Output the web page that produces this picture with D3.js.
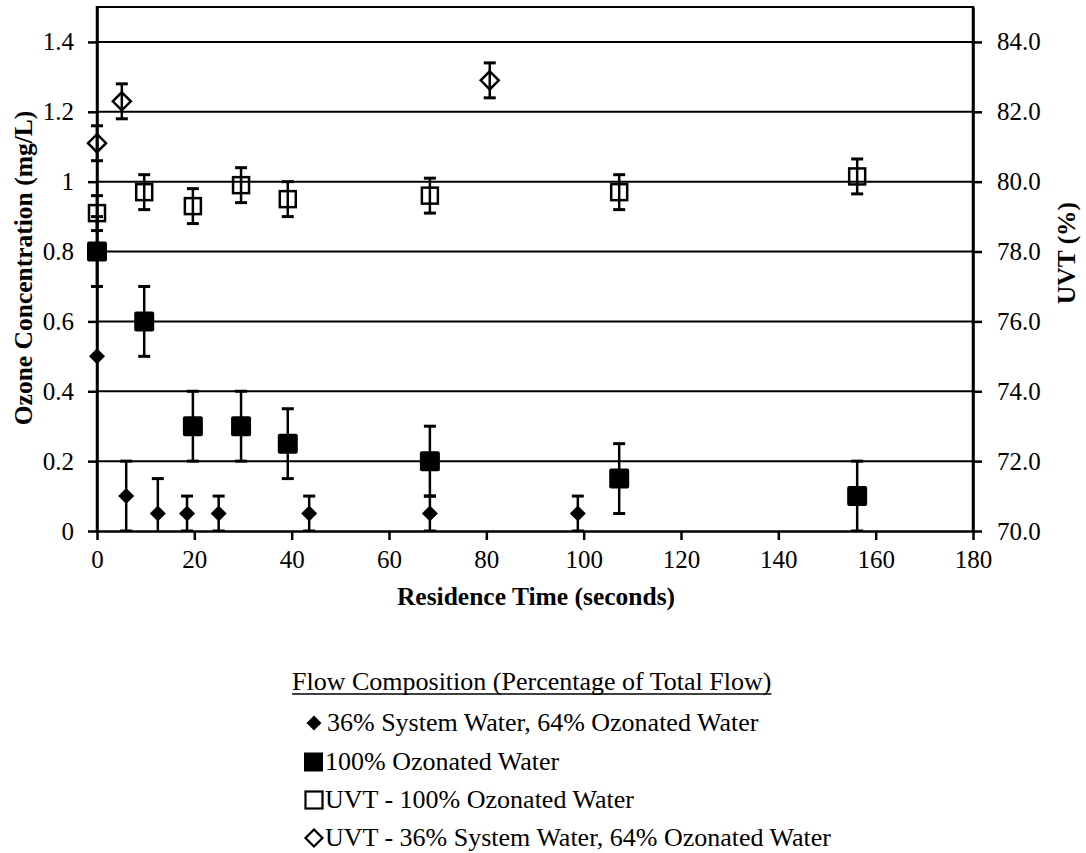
<!DOCTYPE html>
<html>
<head>
<meta charset="utf-8">
<script src="https://cdn.jsdelivr.net/npm/d3@7"></script>
<style>
  html, body { margin: 0; padding: 0; background: #fff; }
  svg { display: block; font-family: "Liberation Serif", "Times New Roman", serif; }
</style>
</head>
<body>
<svg id="chart" width="1086" height="853"></svg>
<script>
// Residence time (s), ozone concentration (mg/L) and UVT (%) with ± error
const mixTime   = [0, 6, 12.5, 18.5, 25, 43.6, 68.4, 98.8];
const mixOzone  = [0.5, 0.1, 0.05, 0.05, 0.05, 0.05, 0.05, 0.05];
const mixErr    = [0, 0.1, 0.1, 0.05, 0.05, 0.05, 0.05, 0.05];

const fullTime  = [0, 9.7, 19.7, 29.6, 39.2, 68.4, 107.3, 156.2];
const fullOzone = [0.8, 0.6, 0.3, 0.3, 0.25, 0.2, 0.15, 0.1];
const fullErr   = [0.1, 0.1, 0.1, 0.1, 0.1, 0.1, 0.1, 0.1];

const uvtFullTime = [0, 9.7, 19.7, 29.6, 39.2, 68.4, 107.3, 156.2];
const uvtFull     = [79.1, 79.7, 79.3, 79.9, 79.5, 79.6, 79.7, 80.15];
const uvtFullErr  = [0.5, 0.5, 0.5, 0.5, 0.5, 0.5, 0.5, 0.5];

const uvtMixTime = [0, 5.1, 80.7];
const uvtMix     = [81.1, 82.3, 82.9];
const uvtMixErr  = [0.5, 0.5, 0.5];

const xTicks = [0, 20, 40, 60, 80, 100, 120, 140, 160, 180];
const yTicks = [0, 0.2, 0.4, 0.6, 0.8, 1, 1.2, 1.4];
const uvtTicks = [70, 72, 74, 76, 78, 80, 82, 84];

const legendTitle = "Flow Composition (Percentage of Total Flow)";
const legendLabels = [
  "36% System Water, 64% Ozonated Water",
  "100% Ozonated Water",
  "UVT - 100% Ozonated Water",
  "UVT - 36% System Water, 64% Ozonated Water"
];

const svg = d3.select("#chart");
const plotLeft = 97, plotRight = 973, plotTop = 7, plotBottom = 531;

const x = d3.scaleLinear().domain([0, 180]).range([plotLeft, plotRight]);
const y = d3.scaleLinear().domain([0, 1.5]).range([plotBottom, plotTop]);
const y2 = d3.scaleLinear().domain([70, 85]).range([plotBottom, plotTop]);

// horizontal gridlines
svg.append("g").selectAll("line").data(yTicks.slice(1)).join("line")
  .attr("x1", plotLeft).attr("x2", plotRight)
  .attr("y1", d => y(d)).attr("y2", d => y(d))
  .attr("stroke", "#000").attr("stroke-width", 2);

// frame top
svg.append("line").attr("x1", plotLeft).attr("x2", plotRight).attr("y1", plotTop).attr("y2", plotTop)
  .attr("stroke", "#000").attr("stroke-width", 2);

// axes
const fmtY = d => d === 0 ? "0" : d === 1 ? "1" : d3.format(".1f")(d);
const xAxis = svg.append("g").attr("transform", `translate(0,${plotBottom})`)
  .call(d3.axisBottom(x).tickValues(xTicks).tickSize(9).tickSizeOuter(0).tickPadding(10));
const yAxis = svg.append("g").attr("transform", `translate(${plotLeft},0)`)
  .call(d3.axisLeft(y).tickValues(yTicks).tickFormat(fmtY).tickSize(9).tickSizeOuter(0).tickPadding(14));
const y2Axis = svg.append("g").attr("transform", `translate(${plotRight},0)`)
  .call(d3.axisRight(y2).tickValues(uvtTicks).tickFormat(d3.format(".1f")).tickSize(9).tickSizeOuter(0).tickPadding(15));

[xAxis, yAxis, y2Axis].forEach(g => {
  g.select(".domain").attr("stroke", "#000").attr("stroke-width", 2.5);
  g.selectAll(".tick line").attr("stroke", "#000").attr("stroke-width", 2.5);
  g.selectAll(".tick text").attr("fill", "#000")
    .style("font-family", "'Liberation Serif', serif").style("font-size", "25px");
});
// extend vertical axis lines to the frame top
yAxis.append("line").attr("x1", 0).attr("x2", 0).attr("y1", plotTop - 1).attr("y2", plotBottom)
  .attr("stroke", "#000").attr("stroke-width", 2.5);
y2Axis.append("line").attr("x1", 0).attr("x2", 0).attr("y1", plotTop - 1).attr("y2", plotBottom)
  .attr("stroke", "#000").attr("stroke-width", 2.5);

// axis titles
svg.append("text").attr("x", 536).attr("y", 605)
  .attr("text-anchor", "middle").attr("font-weight", "bold").attr("font-size", 25.5)
  .text("Residence Time (seconds)");
svg.append("text").attr("transform", `translate(32,268) rotate(-90)`)
  .attr("text-anchor", "middle").attr("font-weight", "bold").attr("font-size", 25.5)
  .text("Ozone Concentration (mg/L)");
svg.append("text").attr("transform", `translate(1075,253) rotate(-90)`)
  .attr("text-anchor", "middle").attr("font-weight", "bold").attr("font-size", 25.5)
  .text("UVT (%)");

// clip to plotting region for error bars extending below zero
svg.append("clipPath").attr("id", "plotClip").append("rect")
  .attr("x", plotLeft - 20).attr("y", plotTop).attr("width", plotRight - plotLeft + 40).attr("height", plotBottom - plotTop);

const marks = svg.append("g").attr("clip-path", "url(#plotClip)");

function errorBars(times, vals, errs, scale) {
  const g = marks.append("g").attr("stroke", "#000").attr("stroke-width", 2.5);
  times.forEach((t, i) => {
    if (!errs[i]) return;
    const cx = x(t), y0 = scale(vals[i] - errs[i]), y1 = scale(vals[i] + errs[i]);
    g.append("line").attr("x1", cx).attr("x2", cx).attr("y1", y0).attr("y2", y1);
    g.append("line").attr("x1", cx - 6).attr("x2", cx + 6).attr("y1", y1).attr("y2", y1).attr("stroke-width", 3);
    g.append("line").attr("x1", cx - 6).attr("x2", cx + 6).attr("y1", y0).attr("y2", y0).attr("stroke-width", 3);
  });
}

errorBars(uvtFullTime, uvtFull, uvtFullErr, y2);
errorBars(uvtMixTime, uvtMix, uvtMixErr, y2);
errorBars(fullTime, fullOzone, fullErr, y);
errorBars(mixTime, mixOzone, mixErr, y);

const diamond = s => `M0,${-s}L${s},0L0,${s}L${-s},0Z`;

// open squares: UVT - 100% ozonated
marks.append("g").selectAll("rect").data(uvtFullTime).join("rect")
  .attr("x", (d) => x(d) - 8).attr("y", (d, i) => y2(uvtFull[i]) - 8)
  .attr("width", 16).attr("height", 16)
  .attr("fill", "none").attr("stroke", "#000").attr("stroke-width", 2.5);

// open diamonds: UVT - 36% system water
marks.append("g").selectAll("path").data(uvtMixTime).join("path")
  .attr("transform", (d, i) => `translate(${x(d)},${y2(uvtMix[i])})`)
  .attr("d", diamond(9)).attr("fill", "none").attr("stroke", "#000").attr("stroke-width", 2.5);

// filled squares: 100% ozonated
marks.append("g").selectAll("rect").data(fullTime).join("rect")
  .attr("x", d => x(d) - 10).attr("y", (d, i) => y(fullOzone[i]) - 10)
  .attr("width", 20).attr("height", 20).attr("rx", 2).attr("fill", "#000");

// filled diamonds: 36% system water
marks.append("g").selectAll("path").data(mixTime).join("path")
  .attr("transform", (d, i) => `translate(${x(d)},${y(mixOzone[i])})`)
  .attr("d", diamond(8)).attr("fill", "#000");

// legend
const lg = svg.append("g").attr("font-size", 26);
const titleText = lg.append("text").attr("x", 292).attr("y", 690).text(legendTitle);
const tw = titleText.node().getComputedTextLength();
lg.append("line").attr("x1", 292).attr("x2", 292 + tw).attr("y1", 694).attr("y2", 694)
  .attr("stroke", "#000").attr("stroke-width", 1.5);

const rowY = [731, 770, 808, 846];
legendLabels.forEach((lab, i) => {
  const ty = rowY[i];
  const cx = 314, cy = ty - 8;
  if (i === 0) {
    lg.append("path").attr("transform", `translate(${cx},${cy})`).attr("d", diamond(7.5)).attr("fill", "#000");
  } else if (i === 1) {
    lg.append("rect").attr("x", cx - 10).attr("y", cy - 9.5).attr("width", 19).attr("height", 19).attr("fill", "#000");
  } else if (i === 2) {
    lg.append("rect").attr("x", cx - 8.5).attr("y", cy - 8.5).attr("width", 17).attr("height", 17)
      .attr("fill", "none").attr("stroke", "#000").attr("stroke-width", 2.2);
  } else {
    lg.append("path").attr("transform", `translate(${cx},${cy})`).attr("d", diamond(8.5))
      .attr("fill", "none").attr("stroke", "#000").attr("stroke-width", 2.2);
  }
  lg.append("text").attr("x", i === 0 ? 327 : 325).attr("y", ty).text(lab);
});
</script>
</body>
</html>
